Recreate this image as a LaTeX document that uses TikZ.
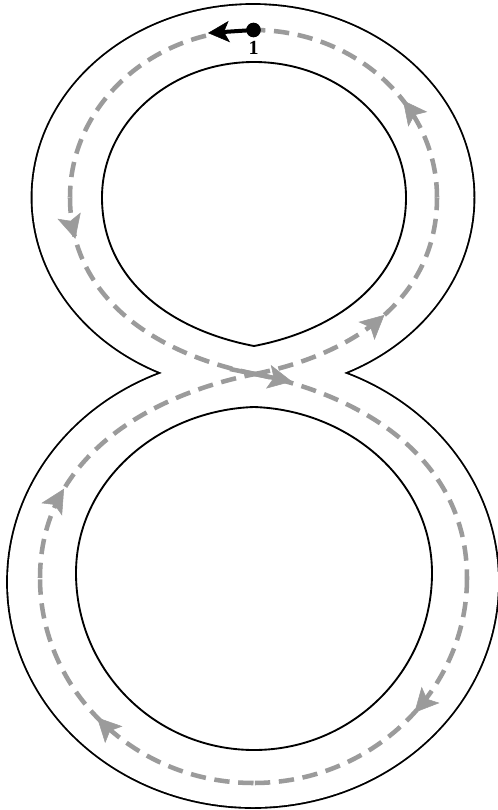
\documentclass[tikz,border=0pt]{standalone}
\usepackage{fontspec}
\setmainfont{Liberation Serif}
\usetikzlibrary{arrows.meta,decorations.markings}
\definecolor{trackgray}{RGB}{155,155,155}
\tikzset{
  rim/.style={line width=1.4pt, draw=black},
  lane/.style={draw=trackgray, line width=3.4pt, dash pattern=on 11.5pt off 6.5pt},
  markat/.style={postaction={decorate}, decoration={markings,
     mark=at position #1 with {\arrow[trackgray]{Stealth[length=18pt,width=18pt,inset=4pt,line width=0.4pt]}}}},
}
\begin{document}
\begin{tikzpicture}[x=0.75pt, y=-0.75pt]
\useasboundingbox (0,0) rectangle (498,810);
\fill[white] (0,0) rectangle (498,810);
% ellipse centres
\coordinate (Tc) at (253,197.5);
\coordinate (Bc) at (253,582);
% outer contour: union of two ellipses
\draw[line width=2.8pt] (Tc) ellipse [x radius=220.5, y radius=192.5];
\draw[line width=2.8pt] (Bc) ellipse [x radius=245, y radius=225];
\fill[white] (Tc) ellipse [x radius=220.5, y radius=192.5];
\fill[white] (Bc) ellipse [x radius=245, y radius=225];
% inner holes
\coordinate (C1) at (254,346);
\coordinate (C2) at (254,407);
\draw[rim] (C1) .. controls (170,330) and (102,279.5) .. (102,197.5)
  .. controls (102,122.7) and (170,62) .. (254,62)
  .. controls (338,62) and (406,122.7) .. (406,197.5)
  .. controls (406,279.5) and (338,330) .. (C1) -- cycle;
\draw[rim] (C2) .. controls (160,410) and (76,480) .. (76,573)
  .. controls (76,671) and (155.7,750) .. (254,750)
  .. controls (352.3,750) and (432,671) .. (432,573)
  .. controls (432,480) and (348,410) .. (C2) -- cycle;
% track centre line
\coordinate (Tt) at (253.5,30);
\coordinate (Tl) at (70,197.5);
\coordinate (Tr) at (437,197.5);
\coordinate (X) at (255,374);
\coordinate (Br) at (467,578);
\coordinate (Bb) at (253.5,783);
\coordinate (Bl) at (40,578);
\draw[lane] (Tt) .. controls (152.2,30) and (70,105) .. (Tl);
\draw[lane, markat=0.15] (Tl) .. controls (70,297.5) and (155,354) .. (X);
\draw[lane] (X) .. controls (365,396) and (467,460) .. (Br);
\draw[lane, markat=0.45] (Br) .. controls (467,691) and (371.4,783) .. (Bb);
\draw[lane, markat=0.53] (Bb) .. controls (135.6,783) and (40,691) .. (Bl);
\draw[lane, markat=0.29] (Bl) .. controls (40,460) and (145,396) .. (X);
\draw[lane, markat=0.52] (X) .. controls (355,354) and (437,297.5) .. (Tr);
\draw[lane, markat=0.38] (Tr) .. controls (437,105) and (354.8,30) .. (Tt);
% solid middle arrow
\coordinate (ms) at (230,369);
\coordinate (me) at (292,381.5);
\draw[trackgray, line width=3.4pt, -{Stealth[length=18pt,width=18pt,inset=4pt,line width=0.4pt]}] (ms) -- (me);
% start marker
\coordinate (bt) at (208,33);
\draw[white, line width=6.5pt] (Tt) -- (214,32.5);
\node[circle, fill=black, inner sep=0pt, minimum size=11pt] (dot) at (Tt) {};
\draw[line width=3pt, -{Stealth[length=16pt,width=16pt,inset=4pt,line width=0.4pt]}] (dot.center) -- (bt);
\node[font=\fontsize{15}{17}\selectfont\bfseries, inner sep=0pt] (lbl) at (253.5,47.5) {1};
\end{tikzpicture}
\end{document}
